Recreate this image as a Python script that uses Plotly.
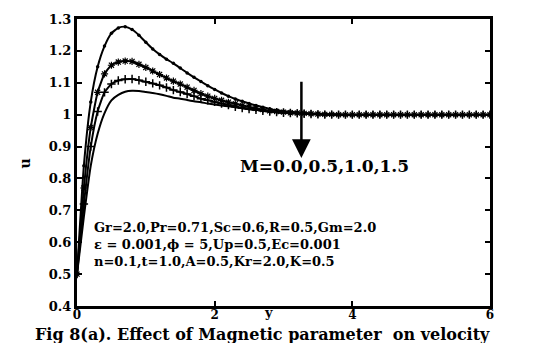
import plotly.graph_objects as go

# ---- data ----
y_grid = [round(0.1 * i, 1) for i in range(61)]
tail = [1.0] * 21  # all curves sit on u = 1 for y >= 4

u_M00 = [0.50, 0.84, 1.04, 1.15, 1.215, 1.255, 1.272, 1.276, 1.267, 1.249,
         1.227, 1.206, 1.189, 1.174, 1.161, 1.146, 1.131, 1.117, 1.104, 1.091,
         1.079, 1.068, 1.058, 1.049, 1.042, 1.035, 1.029, 1.023, 1.018, 1.014,
         1.011, 1.009, 1.007, 1.005, 1.004, 1.003, 1.002, 1.001, 1.001, 1.000] + tail
u_M05 = [0.50, 0.77, 0.96, 1.07, 1.128, 1.155, 1.165, 1.168, 1.167, 1.158,
         1.148, 1.137, 1.126, 1.115, 1.105, 1.096, 1.086, 1.076, 1.066, 1.058,
         1.051, 1.045, 1.039, 1.034, 1.029, 1.024, 1.020, 1.016, 1.012, 1.010,
         1.008, 1.006, 1.005, 1.004, 1.003, 1.002, 1.001, 1.001, 1.000, 1.000] + tail
u_M10 = [0.50, 0.72, 0.90, 1.01, 1.07, 1.096, 1.107, 1.111, 1.112, 1.108,
         1.103, 1.098, 1.092, 1.085, 1.077, 1.071, 1.065, 1.058, 1.050, 1.045,
         1.040, 1.035, 1.030, 1.025, 1.021, 1.018, 1.015, 1.012, 1.010, 1.008,
         1.006, 1.005, 1.004, 1.003, 1.002, 1.001, 1.000, 1.000, 1.000, 1.000] + tail
u_M15 = [0.50, 0.68, 0.84, 0.94, 1.005, 1.045, 1.062, 1.072, 1.075, 1.074,
         1.071, 1.068, 1.064, 1.059, 1.053, 1.050, 1.046, 1.042, 1.039, 1.035,
         1.032, 1.029, 1.026, 1.023, 1.020, 1.017, 1.015, 1.012, 1.010, 1.008,
         1.006, 1.005, 1.004, 1.003, 1.002, 1.001, 1.000, 1.000, 1.000, 1.000] + tail

x_ticks = [0, 2, 4, 6]
y_ticks = [0.4, 0.5, 0.6, 0.7, 0.8, 0.9, 1.0, 1.1, 1.2, 1.3]
y_tick_labels = ["0.4", "0.5", "0.6", "0.7", "0.8", "0.9", "1", "1.1", "1.2", "1.3"]

param_lines = ["Gr=2.0,Pr=0.71,Sc=0.6,R=0.5,Gm=2.0",
               "\u03b5 = 0.001,\u03d5 = 5,Up=0.5,Ec=0.001",
               "n=0.1,t=1.0,A=0.5,Kr=2.0,K=0.5"]
m_label = "M=0.0,0.5,1.0,1.5"
caption = "Fig 8(a). Effect of Magnetic parameter\u00a0 on velocity"

FONT = "DejaVu Serif"

fig = go.Figure()
styles = [
    (u_M00, dict(symbol="circle", size=3.5, color="black")),
    (u_M05, dict(symbol="asterisk-open", size=6, color="black", line=dict(width=1.2, color="black"))),
    (u_M10, dict(symbol="cross-thin-open", size=6, color="black", line=dict(width=1.5, color="black"))),
    (u_M15, None),
]
for vals, mk in styles:
    fig.add_trace(go.Scatter(
        x=y_grid, y=vals,
        mode="lines+markers" if mk else "lines",
        line=dict(color="black", width=2, shape="spline", smoothing=0.5),
        marker=mk, showlegend=False, cliponaxis=True,
    ))

axis_common = dict(
    showline=True, linecolor="black", linewidth=3, mirror="ticks",
    ticks="inside", ticklen=5, tickwidth=1.5, tickcolor="black",
    showgrid=False, zeroline=False,
)
fig.update_xaxes(range=[0, 6], tickvals=x_ticks, ticktext=[str(t) for t in x_ticks],
                 tickfont=dict(family=FONT, size=12, color="black", weight="bold"),
                 ticklabelstandoff=-4, **axis_common)
fig.update_yaxes(range=[0.4, 1.3], tickvals=y_ticks, ticktext=y_tick_labels,
                 tickfont=dict(family=FONT, size=13, color="black", weight="bold"),
                 **axis_common)

# arrow
fig.add_annotation(x=3.26, y=0.864, ax=3.26, ay=1.108, axref="x", ayref="y",
                   xref="x", yref="y", text="", showarrow=True,
                   arrowhead=2, arrowsize=1.5, arrowwidth=2.5, arrowcolor="black")
fig.add_annotation(x=3.59, y=0.84, xref="x", yref="y", text=m_label, showarrow=False,
                   font=dict(family=FONT, size=17, color="black", weight="bold"))

fig.add_annotation(x=0.214, y=0.594, xref="x", yref="y", text="<br>".join(param_lines),
                   showarrow=False, xanchor="left", yanchor="middle", align="left",
                   font=dict(family=FONT, size=13, color="black", weight="bold"))

# axis titles
fig.add_annotation(x=2.78, y=-7 / 294, xref="x", yref="paper", text="y", showarrow=False,
                   yanchor="middle", font=dict(family=FONT, size=13, color="black", weight="bold"))
fig.add_annotation(x=-62 / 413, y=(306 - 160) / 294, xref="paper", yref="paper", text="u",
                   showarrow=False, textangle=-90,
                   font=dict(family=FONT, size=14, color="black", weight="bold"))
# caption
fig.add_annotation(x=-44 / 413, y=-29 / 294, xref="paper", yref="paper", text=caption,
                   showarrow=False, xanchor="left", yanchor="middle",
                   font=dict(family=FONT, size=16, color="black", weight="bold"))

fig.update_layout(
    width=534, height=343,
    margin=dict(l=77, r=44, t=12, b=37),
    paper_bgcolor="white", plot_bgcolor="white",
)
fig.write_html("out.html")
